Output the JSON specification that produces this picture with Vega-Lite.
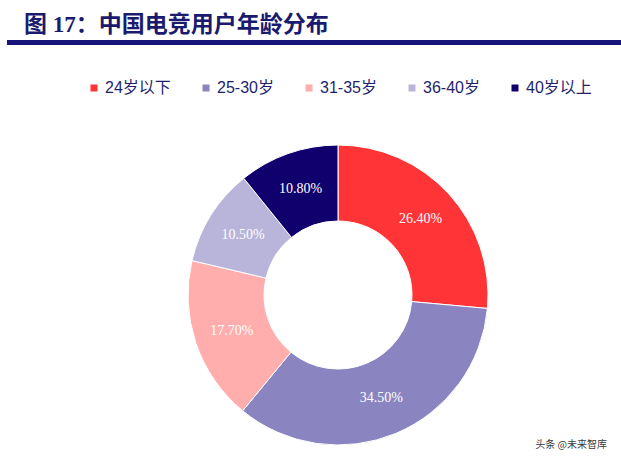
{
  "$schema": "https://vega.github.io/schema/vega-lite/v6.json",
  "padding": {"left": 7, "top": 13, "right": 0, "bottom": 0},
  "background": "white",
  "config": {"view": {"stroke": null}},
  "title": {
    "text": "图 17：中国电竞用户年龄分布",
    "anchor": "start",
    "frame": "group",
    "font": "Liberation Serif, 'Noto Sans CJK SC'",
    "fontSize": 23,
    "fontWeight": "bold",
    "color": "#1a1a6e",
    "dx": 17,
    "offset": 0
  },
  "datasets": {
    "ages": [
      {"age": "24岁以下", "value": 0.264, "idx": 1},
      {"age": "25-30岁", "value": 0.345, "idx": 2},
      {"age": "31-35岁", "value": 0.177, "idx": 3},
      {"age": "36-40岁", "value": 0.105, "idx": 4},
      {"age": "40岁以上", "value": 0.108, "idx": 5}
    ]
  },
  "spacing": 95,
  "vconcat": [
    {
      "width": 614,
      "height": 5,
      "view": {"fill": "#16137a", "stroke": null},
      "data": {"values": [{}]},
      "mark": {"type": "text", "text": ""},
      "encoding": {}
    },
    {
      "spacing": 0,
      "bounds": "flush",
      "hconcat": [
        {
          "width": 86,
          "height": 10,
          "data": {"values": [{}]},
          "mark": {"type": "text", "text": ""},
          "encoding": {}
        },
        {
          "width": 490,
          "height": 300,
          "data": {"name": "ages"},
          "title": {
            "text": "头条 @未来智库",
            "orient": "bottom",
            "anchor": "end",
            "font": "'Noto Sans CJK SC'",
            "fontSize": 10,
            "fontWeight": "normal",
            "color": "#3a3a3a",
            "baseline": "top",
            "offset": 0,
            "dx": 24,
            "dy": -7
          },
          "encoding": {
            "theta": {"field": "value", "type": "quantitative", "stack": true},
            "order": {"field": "idx", "type": "quantitative"}
          },
          "layer": [
            {
              "mark": {"type": "arc", "radius": 150, "innerRadius": 74, "stroke": "white", "strokeWidth": 1},
              "encoding": {
                "color": {
                  "field": "age",
                  "type": "nominal",
                  "scale": {
                    "domain": ["24岁以下", "25-30岁", "31-35岁", "36-40岁", "40岁以上"],
                    "range": ["#fe3437", "#8a84c0", "#ffadad", "#b8b4da", "#10006e"]
                  },
                  "legend": {
                    "orient": "none",
                    "legendX": 79,
                    "legendY": 40,
                    "direction": "horizontal",
                    "title": null,
                    "symbolType": "square",
                    "symbolSize": 49,
                    "symbolStrokeWidth": 0,
                    "labelFont": "Liberation Sans, 'Noto Sans CJK SC'",
                    "labelFontSize": 16,
                    "labelColor": "#1f1f6e",
                    "labelOffset": 3,
                    "columnPadding": 27,
                    "padding": 0
                  }
                }
              }
            },
            {
              "mark": {"type": "text", "radius": 112, "fill": "white", "font": "Liberation Serif", "fontSize": 14},
              "encoding": {
                "text": {"field": "value", "type": "quantitative", "format": ".2%"}
              }
            }
          ]
        }
      ]
    }
  ]
}
